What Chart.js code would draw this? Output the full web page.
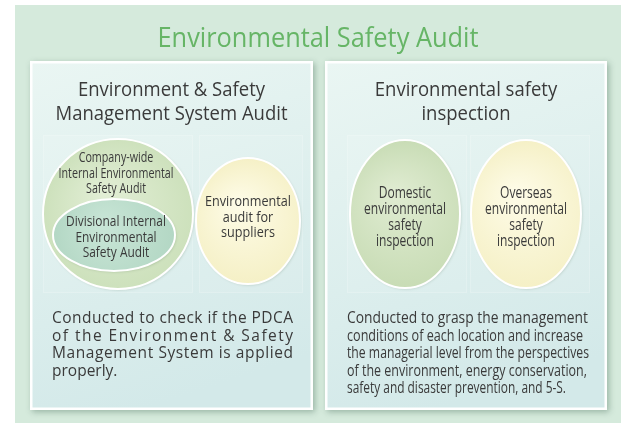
<!DOCTYPE html>
<html>
<head>
<meta charset="utf-8">
<script src="https://cdn.jsdelivr.net/npm/chart.js@4.4.0/dist/chart.umd.min.js"></script>
<style>
  html, body { margin: 0; padding: 0; background: #fff; }
  canvas { display: block; }
</style>
</head>
<body>
<canvas id="audit" width="621" height="423"></canvas>
<script>
// texts of the diagram
const title = "Environmental Safety Audit";
const sectionTitles = [
  ["Environment & Safety", "Management System Audit"],
  ["Environmental safety", "inspection"]
];
const nodeLabels = [
  ["Company-wide", "Internal Environmental", "Safety Audit"],
  ["Divisional Internal", "Environmental", "Safety Audit"],
  ["Environmental", "audit for", "suppliers"],
  ["Domestic", "environmental", "safety", "inspection"],
  ["Overseas", "environmental", "safety", "inspection"]
];
const notesLeft = [
  "Conducted to check if the PDCA",
  "of the Environment & Safety",
  "Management System is applied",
  "properly."
];
const notesRight = [
  "Conducted to grasp the management",
  "conditions of each location and increase",
  "the managerial level from the perspectives",
  "of the environment, energy conservation,",
  "safety and disaster prevention, and 5-S."
];

// layout (data units = pixels of the 621x423 picture, y downwards)
const panel = { x0: 15, y0: 5, x1: 621, y1: 423 };
const boxes = [
  { x0: 31, y0: 62, x1: 312, y1: 409 },
  { x0: 326, y0: 62, x1: 606, y1: 409 }
];
const wells = [
  { x0: 43, y0: 135, x1: 193, y1: 293 },
  { x0: 199, y0: 135, x1: 303, y1: 293 },
  { x0: 347, y0: 135, x1: 467, y1: 293 },
  { x0: 470, y0: 135, x1: 590, y1: 293 }
];
const nodes = [
  { cx: 118, cy: 214, rx: 75, ry: 75, c0: "#e2eed5", c1: "#cde1bc", ty: 158, lh: 15.5, size: 14.5, w: 115 },
  { cx: 114, cy: 235, rx: 61, ry: 36, c0: "#c9e6d7", c1: "#b3d7c4", ty: 222, lh: 15.5, size: 15, w: 100 },
  { cx: 248, cy: 221, rx: 52, ry: 63, c0: "#fefce8", c1: "#f5f0c6", ty: 202, lh: 15.5, size: 15, w: 86 },
  { cx: 405, cy: 214, rx: 55, ry: 74, c0: "#e0ecd2", c1: "#c8dcb5", ty: 193, lh: 16.3, size: 16, w: 82 },
  { cx: 526, cy: 214, rx: 55, ry: 74, c0: "#fefce8", c1: "#f5f0c6", ty: 193, lh: 16.3, size: 16, w: 82 }
];
// widths the right-hand note lines take in the picture
const notesRightWidths = [241, 236, 242, 240, 219];

const FONT = '"Open Sans", "DejaVu Sans", sans-serif';
const INK = "#3a3a3a";

function drawText(ctx, str, x, y, size, color, scaleX, align, baseline) {
  ctx.save();
  ctx.font = size + "px " + FONT;
  ctx.fillStyle = color;
  ctx.textBaseline = baseline || "middle";
  ctx.textAlign = align || "center";
  ctx.translate(x, y);
  ctx.scale(scaleX, 1);
  ctx.fillText(str, 0, 0);
  ctx.restore();
}

// horizontal squeeze so that the widest line of a block gets the given width
function scaleFor(ctx, lines, size, width) {
  ctx.font = size + "px " + FONT;
  const widest = Math.max(...lines.map(l => ctx.measureText(l).width));
  return width / widest;
}

function drawJustified(ctx, str, x, y, size, color, width) {
  ctx.save();
  ctx.font = size + "px " + FONT;
  ctx.fillStyle = color;
  ctx.textBaseline = "alphabetic";
  ctx.textAlign = "left";
  const chars = [...str];
  const natural = ctx.measureText(str).width;
  const gap = (width - natural) / (chars.length - 1);
  let px = x;
  chars.forEach(ch => {
    ctx.fillText(ch, px, y);
    px += ctx.measureText(ch).width + gap;
  });
  ctx.restore();
}

const diagram = {
  id: "diagram",
  beforeDatasetsDraw(chart) {
    const ctx = chart.ctx;
    const xs = chart.scales.x, ys = chart.scales.y;
    const X = v => xs.getPixelForValue(v);
    const Y = v => ys.getPixelForValue(v);
    const rect = r => [X(r.x0), Y(r.y0), X(r.x1) - X(r.x0), Y(r.y1) - Y(r.y0)];

    // outer panel
    ctx.save();
    ctx.fillStyle = "#d5eadc";
    ctx.fillRect(...rect(panel));
    ctx.restore();

    // title
    const ts = scaleFor(ctx, [title], 28, 321);
    drawText(ctx, title, X(318), Y(39), 28, "#66b566", ts);

    // boxes
    boxes.forEach(b => {
      const [x, y, w, h] = rect(b);
      ctx.save();
      ctx.shadowColor = "rgba(40,80,60,0.35)";
      ctx.shadowBlur = 6;
      ctx.shadowOffsetX = 2;
      ctx.shadowOffsetY = 2;
      ctx.fillStyle = "#ffffff";
      ctx.fillRect(x - 1, y - 1, w + 2, h + 2);
      ctx.restore();
      ctx.save();
      const g = ctx.createLinearGradient(x, y, x + w * 0.4, y + h);
      g.addColorStop(0, "#eaf6f3");
      g.addColorStop(1, "#d3e9e9");
      ctx.fillStyle = g;
      ctx.fillRect(x + 1.5, y + 1.5, w - 3, h - 3);
      ctx.restore();
    });

    // faint wells behind the ellipses
    wells.forEach(r => {
      const [x, y, w, h] = rect(r);
      ctx.save();
      ctx.fillStyle = "rgba(255,255,255,0.08)";
      ctx.fillRect(x, y, w, h);
      ctx.strokeStyle = "rgba(255,255,255,0.18)";
      ctx.lineWidth = 1;
      ctx.strokeRect(x + 0.5, y + 0.5, w - 1, h - 1);
      ctx.restore();
    });

    // section titles
    const ss = scaleFor(ctx, sectionTitles[0], 20, 232);
    [171.5, 466].forEach((cx, i) => {
      sectionTitles[i].forEach((line, j) => {
        drawText(ctx, line, X(cx), Y(90 + j * 24), 20, INK, ss);
      });
    });

    // ellipses
    nodes.forEach(n => {
      const cx = X(n.cx), cy = Y(n.cy);
      const rx = X(n.cx + n.rx) - cx, ry = Y(n.cy + n.ry) - cy;
      ctx.save();
      ctx.beginPath();
      ctx.ellipse(cx, cy, rx, ry, 0, 0, Math.PI * 2);
      const g = ctx.createRadialGradient(cx - rx * 0.2, cy - ry * 0.3, 0, cx, cy, Math.max(rx, ry));
      g.addColorStop(0, n.c0);
      g.addColorStop(1, n.c1);
      ctx.shadowColor = "rgba(60,90,60,0.25)";
      ctx.shadowBlur = 3;
      ctx.shadowOffsetX = 1;
      ctx.shadowOffsetY = 1;
      ctx.fillStyle = g;
      ctx.fill();
      ctx.shadowColor = "transparent";
      ctx.strokeStyle = "#ffffff";
      ctx.lineWidth = 2;
      ctx.stroke();
      ctx.restore();
    });

    // ellipse labels
    nodes.forEach((n, i) => {
      const lines = nodeLabels[i];
      const s = scaleFor(ctx, lines, n.size, n.w);
      const lx = i < 2 ? 116 : n.cx;
      lines.forEach((line, j) => {
        drawText(ctx, line, X(lx), Y(n.ty + j * n.lh), n.size, INK, s);
      });
    });

    // notes, left box: letter-spaced to a common width
    notesLeft.forEach((line, j) => {
      const y = Y(323 + j * 17.5);
      if (j < notesLeft.length - 1) {
        drawJustified(ctx, line, X(52), y, 15.5, INK, X(293) - X(52));
      } else {
        drawText(ctx, line, X(52), y, 15.5, INK, 1, "left", "alphabetic");
      }
    });
    // notes, right box: condensed line by line to the picture's widths
    notesRight.forEach((line, j) => {
      const s = scaleFor(ctx, [line], 15.5, notesRightWidths[j]);
      drawText(ctx, line, X(347), Y(323 + j * 17.5), 15.5, INK, s, "left", "alphabetic");
    });
  }
};

new Chart(document.getElementById("audit"), {
  type: "scatter",
  data: {
    datasets: [{
      data: nodes.map(n => ({ x: n.cx, y: n.cy })),
      pointRadius: 0
    }]
  },
  options: {
    responsive: false,
    animation: false,
    layout: { padding: 0 },
    plugins: { legend: { display: false }, tooltip: { enabled: false } },
    scales: {
      x: { type: "linear", min: 0, max: 621, display: false },
      y: { type: "linear", min: 0, max: 423, reverse: true, display: false }
    }
  },
  plugins: [diagram]
});
</script>
</body>
</html>
